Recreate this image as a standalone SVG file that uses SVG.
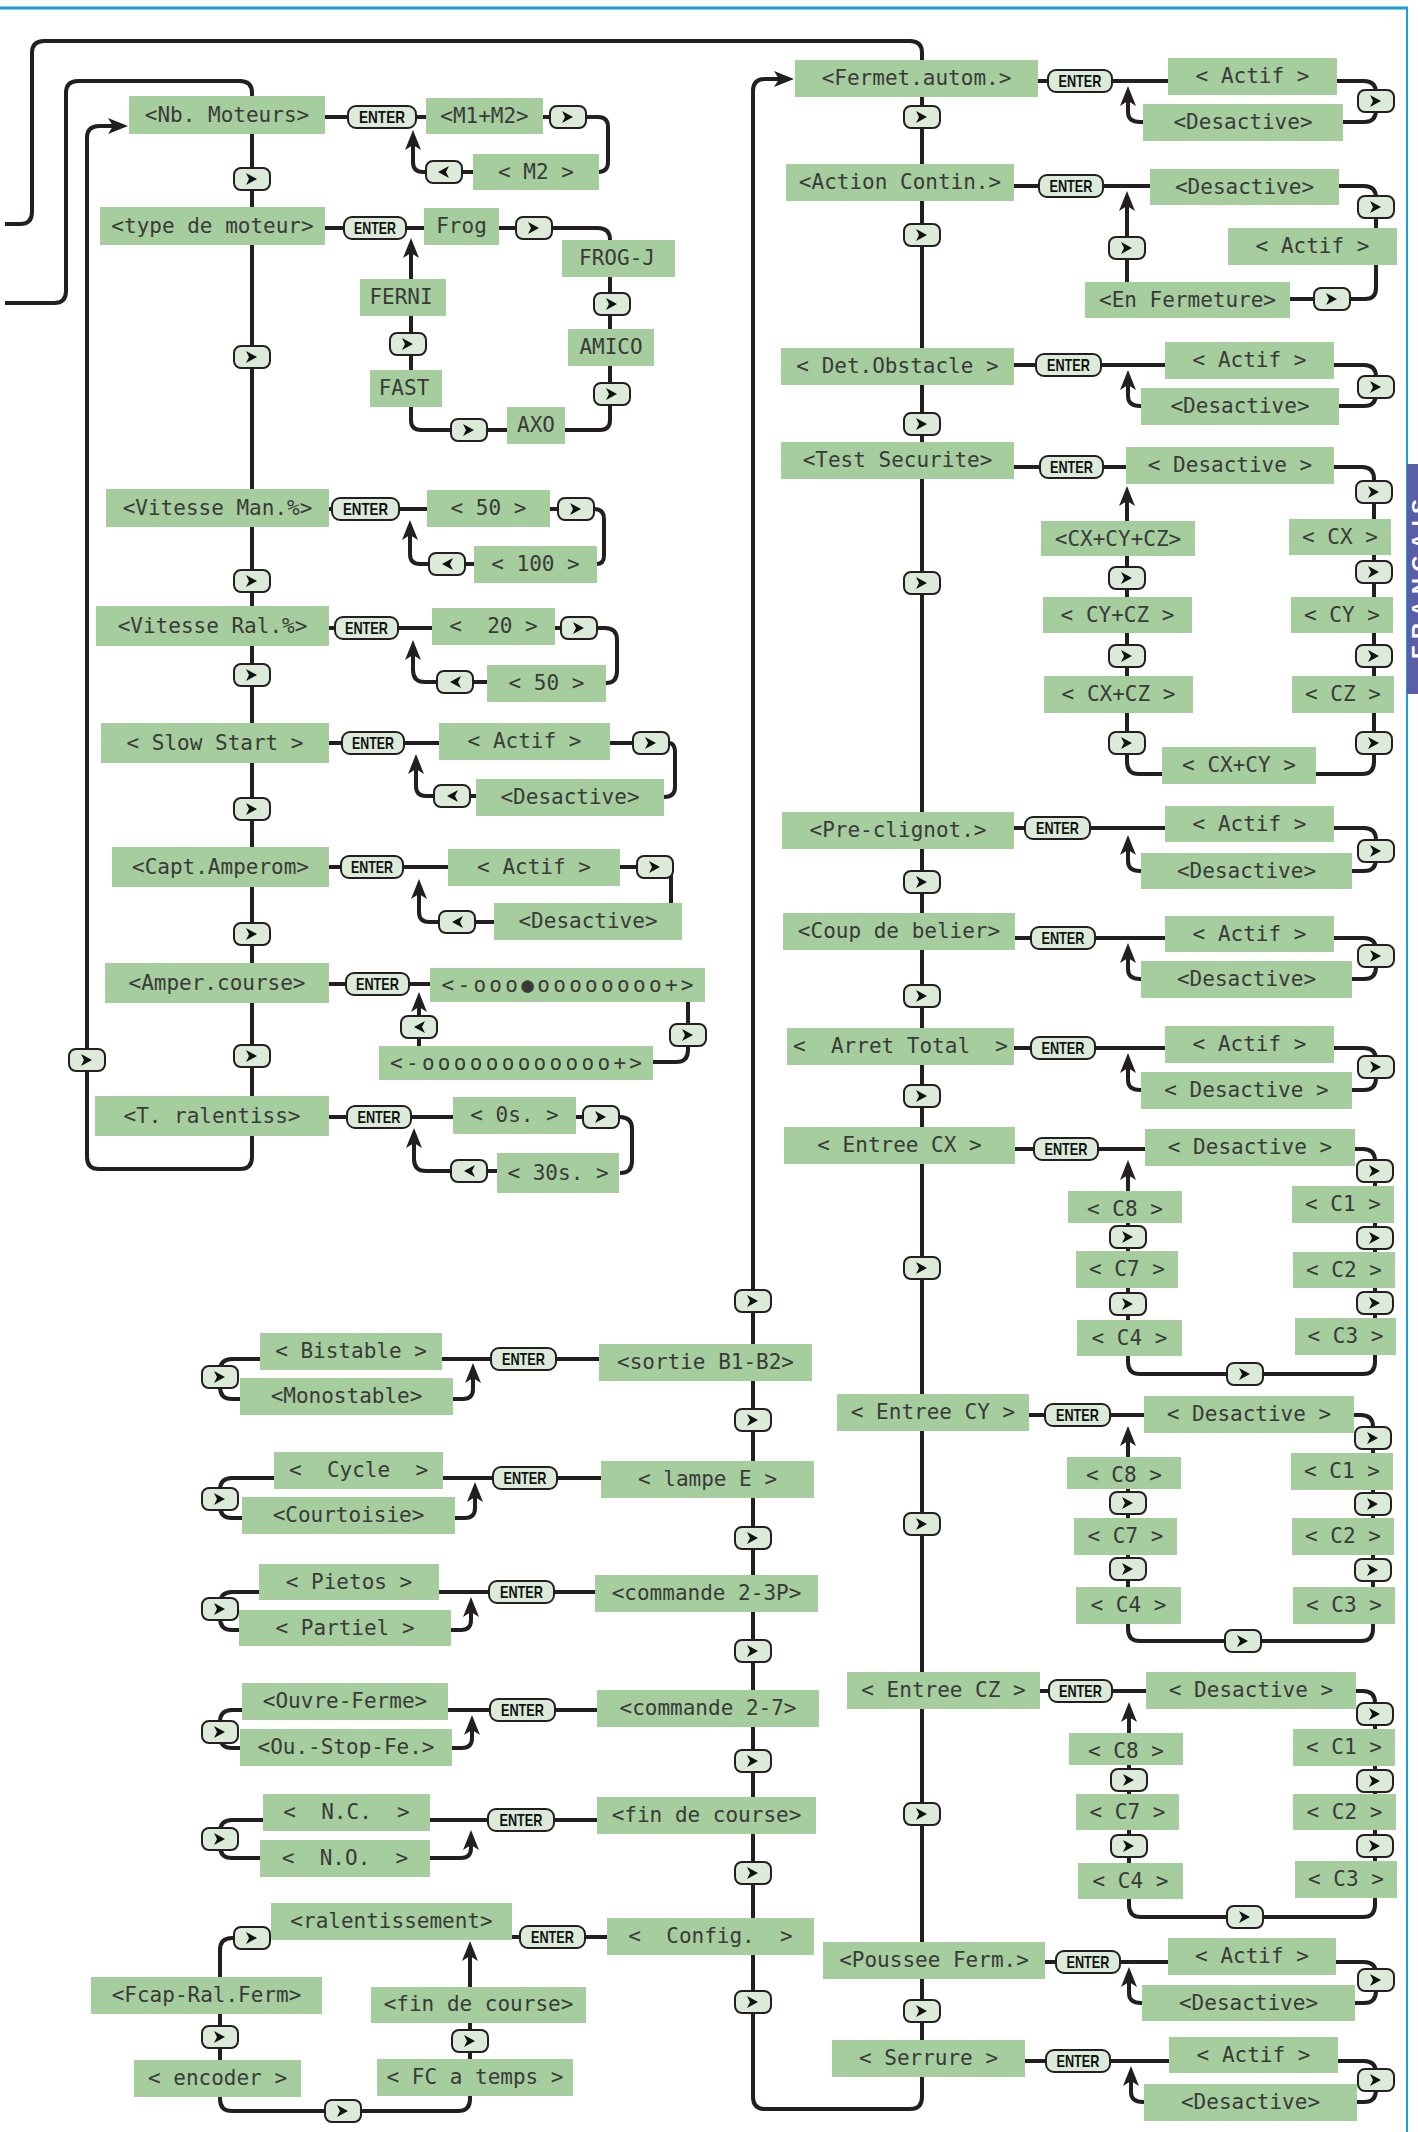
<svg xmlns="http://www.w3.org/2000/svg" xmlns:xlink="http://www.w3.org/1999/xlink" width="1418" height="2132" viewBox="0 0 1418 2132">
<style>
.ln{fill:none;stroke:#231f20;stroke-width:4}
.ar{marker-end:url(#ah)}
.bx{fill:#a5cd9d}
.t{font-family:"DejaVu Sans Mono","Liberation Mono",monospace;font-size:21px;fill:#3a3a3a;text-anchor:middle;white-space:pre}
.k{fill:#dcebd9;stroke:#231f20;stroke-width:2}
.en{font-family:"Liberation Sans",Arial,sans-serif;font-weight:bold;font-size:17px;fill:#111;text-anchor:middle}
.g{fill:#111}
</style>
<defs>
<marker id="ah" viewBox="0 0 20 16" refX="10" refY="8" markerWidth="20" markerHeight="16" markerUnits="userSpaceOnUse" orient="auto"><path d="M0,0 L20,8 L0,16 L5,8 Z" fill="#231f20"/></marker>
<path id="gr" class="g" d="M-5,-6 L6,0 L-5,6 L-2,0 Z"/>
<path id="gl" class="g" d="M5,-6 L-6,0 L5,6 L2,0 Z"/>
</defs>
<rect width="1418" height="2132" fill="#fff"/>
<g id="frame">
<line x1="0" y1="8" x2="1408" y2="8" stroke="#17a0dc" stroke-width="3"/>
<line x1="1407" y1="8" x2="1407" y2="2132" stroke="#17a0dc" stroke-width="2"/>
<rect x="1407" y="464" width="11" height="230" fill="#5b5ea6"/>
<text transform="translate(1427,579) rotate(-90)" font-family="Liberation Sans,Arial,sans-serif" font-weight="bold" font-size="22" fill="#fff" text-anchor="middle" textLength="160" lengthAdjust="spacing">FRANÇAIS</text>
</g>
<g id="connectors">
<path class="ln" d="M5,224 H20 Q32,224 32,212 V53 Q32,41 44,41 H910 Q922,41 922,53 V60"/>
<path class="ln ar" d="M922,97 V2097 Q922,2109 910,2109 H765 Q753,2109 753,2097 V91 Q753,79 765,79 H784"/>
<path class="ln" d="M5,303 H54 Q66,303 66,291 V93 Q66,81 78,81 H240 Q252,81 252,93 V96"/>
<path class="ln ar" d="M252,134 V1157 Q252,1169 240,1169 H99 Q87,1169 87,1157 V138 Q87,126 99,126 H118"/>
<path class="ln" d="M325,117 H426 M543,117 H550 M586,117 H598 Q608,117 608,127 V162 Q608,172 598,172 M473,172 H462"/>
<path class="ln ar" d="M426,172 H423 Q413,172 413,162 V140"/>
<path class="ln" d="M325,228 H424 M499,228 H516 M552,228 H598 Q610,228 610,240 M610,277 V329 M610,366 V420 Q610,430 600,430 H565 M507,430 H487 M451,430 H421 Q411,430 411,420 V407 M411,370 V316"/>
<path class="ln ar" d="M411,279 V248"/>
<path class="ln" d="M329,509 H427 M550,509 H558 M594,509 Q604,509 604,519 V556 Q604,564 596,564 M474,564 H465"/>
<path class="ln ar" d="M429,564 H420 Q410,564 410,554 V530"/>
<path class="ln" d="M329,628 H432 M555,628 H561 M597,628 H605 Q617,628 617,640 V671 Q617,683 606,683 M487,682 H473"/>
<path class="ln ar" d="M437,682 H425 Q413,682 413,670 V650"/>
<path class="ln" d="M329,743 H439 M610,743 H633 M669,743 Q675,743 675,753 V787 Q675,797 664,797 M476,796 H470"/>
<path class="ln ar" d="M434,796 H426 Q416,796 416,786 V764"/>
<path class="ln" d="M329,867 H448 M620,867 H637 M655,867 H663 Q671,867 671,875 V903 M494,922 H475"/>
<path class="ln ar" d="M439,922 H429 Q419,922 419,912 V889"/>
<path class="ln" d="M329,984 H430 M688,1002 V1050 Q688,1062 676,1062 H653"/>
<path class="ln ar" d="M419,1046 V1002"/>
<path class="ln" d="M329,1117 H453 M576,1117 H583 M619,1117 H620 Q632,1117 632,1129 V1161 Q632,1173 620,1173 M497,1171 H487"/>
<path class="ln ar" d="M451,1171 H426 Q414,1171 414,1159 V1138"/>
<path class="ln" d="M1038,81 H1168 M1337,81 H1364 Q1376,81 1376,93 V110 Q1376,122 1364,122 H1343"/>
<path class="ln ar" d="M1143,122 H1140 Q1128,122 1128,112 V96"/>
<path class="ln" d="M1014,186 H1150 M1339,186 H1364 Q1376,186 1376,198 V228 M1376,265 V288 Q1376,299 1365,299 H1350 M1314,299 H1290"/>
<path class="ln ar" d="M1127,282 V201"/>
<path class="ln" d="M1014,365 H1165 M1334,365 H1364 Q1376,365 1376,377 V394 Q1376,406 1364,406 H1339"/>
<path class="ln ar" d="M1141,406 H1140 Q1128,406 1128,396 V380"/>
<path class="ln" d="M1014,467 H1126 M1334,467 H1362 Q1374,467 1374,479 V762 Q1374,774 1362,774 H1316"/>
<path class="ln ar" d="M1162,774 H1139 Q1127,774 1127,762 V496"/>
<path class="ln" d="M1014,828 H1165 M1334,828 H1364 Q1376,828 1376,840 V859 Q1376,871 1364,871 H1352"/>
<path class="ln ar" d="M1141,871 H1140 Q1128,871 1128,861 V845"/>
<path class="ln" d="M1015,938 H1165 M1334,938 H1364 Q1376,938 1376,950 V967 Q1376,979 1364,979 H1352"/>
<path class="ln ar" d="M1141,979 H1140 Q1128,979 1128,969 V953"/>
<path class="ln" d="M1014,1048 H1165 M1334,1048 H1364 Q1376,1048 1376,1060 V1078 Q1376,1090 1364,1090 H1352"/>
<path class="ln ar" d="M1141,1090 H1140 Q1128,1090 1128,1080 V1063"/>
<path class="ln" d="M1015,1149 H1145"/>
<path class="ln ar" d="M1355,1149 H1363 Q1375,1149 1375,1161 V1362 Q1375,1374 1363,1374 H1140 Q1128,1374 1128,1362 V1170"/>
<path class="ln" d="M1029,1415 H1144"/>
<path class="ln ar" d="M1354,1415 H1361 Q1373,1415 1373,1427 V1629 Q1373,1641 1361,1641 H1140 Q1128,1641 1128,1629 V1436"/>
<path class="ln" d="M1040,1691 H1146"/>
<path class="ln ar" d="M1356,1691 H1363 Q1375,1691 1375,1703 V1905 Q1375,1917 1363,1917 H1141 Q1129,1917 1129,1905 V1712"/>
<path class="ln" d="M1045,1962 H1168 M1336,1962 H1364 Q1376,1962 1376,1974 V1991 Q1376,2003 1364,2003 H1355"/>
<path class="ln ar" d="M1142,2003 H1141 Q1129,2003 1129,1993 V1977"/>
<path class="ln" d="M1025,2061 H1169 M1337,2061 H1364 Q1376,2061 1376,2073 V2090 Q1376,2102 1364,2102 H1356"/>
<path class="ln ar" d="M1144,2102 H1143 Q1131,2102 1131,2092 V2076"/>
<path class="ln" d="M599,1359 H442 M260,1359 H232 Q220,1359 220,1371 V1387 Q220,1399 232,1399 H240"/>
<path class="ln ar" d="M453,1399 H463 Q473,1399 473,1389 V1373"/>
<path class="ln" d="M601,1478 H443 M274,1478 H232 Q220,1478 220,1490 V1506 Q220,1518 232,1518 H242"/>
<path class="ln ar" d="M455,1518 H465 Q475,1518 475,1508 V1492"/>
<path class="ln" d="M595,1592 H439 M259,1592 H232 Q220,1592 220,1604 V1618 Q220,1630 232,1630 H239"/>
<path class="ln ar" d="M451,1630 H461 Q471,1630 471,1620 V1607"/>
<path class="ln" d="M597,1710 H448 M242,1710 H232 Q220,1710 220,1722 V1736 Q220,1748 232,1748 H240"/>
<path class="ln ar" d="M452,1748 H462 Q472,1748 472,1738 V1725"/>
<path class="ln" d="M597,1820 H430 M263,1820 H232 Q220,1820 220,1832 V1846 Q220,1858 232,1858 H260"/>
<path class="ln ar" d="M430,1858 H461 Q471,1858 471,1848 V1840"/>
<path class="ln" d="M607,1937 H512"/>
<path class="ln ar" d="M234,1938 H232 Q220,1938 220,1950 V2099 Q220,2111 232,2111 H458 Q470,2111 470,2099 V1951"/>
</g>
<g id="enter-keys">
<g id="eA1"><rect class="k" x="348" y="106" width="68" height="22" rx="8"/><text class="en" x="382" y="123" textLength="46" lengthAdjust="spacingAndGlyphs">ENTER</text></g>
<g id="eA2"><rect class="k" x="344" y="217" width="62" height="22" rx="8"/><text class="en" x="375" y="234" textLength="42" lengthAdjust="spacingAndGlyphs">ENTER</text></g>
<g id="eA3"><rect class="k" x="332" y="498" width="67" height="22" rx="8"/><text class="en" x="365.5" y="515" textLength="45" lengthAdjust="spacingAndGlyphs">ENTER</text></g>
<g id="eA4"><rect class="k" x="335" y="617" width="63" height="22" rx="8"/><text class="en" x="366.5" y="634" textLength="43" lengthAdjust="spacingAndGlyphs">ENTER</text></g>
<g id="eA5"><rect class="k" x="342" y="732" width="62" height="22" rx="8"/><text class="en" x="373" y="749" textLength="42" lengthAdjust="spacingAndGlyphs">ENTER</text></g>
<g id="eA6"><rect class="k" x="341" y="856" width="62" height="22" rx="8"/><text class="en" x="372" y="873" textLength="42" lengthAdjust="spacingAndGlyphs">ENTER</text></g>
<g id="eA7"><rect class="k" x="346" y="973" width="63" height="22" rx="8"/><text class="en" x="377.5" y="990" textLength="43" lengthAdjust="spacingAndGlyphs">ENTER</text></g>
<g id="eA8"><rect class="k" x="347" y="1106" width="64" height="22" rx="8"/><text class="en" x="379" y="1123" textLength="43" lengthAdjust="spacingAndGlyphs">ENTER</text></g>
<g id="eB1"><rect class="k" x="1048" y="70" width="64" height="22" rx="8"/><text class="en" x="1080" y="87" textLength="43" lengthAdjust="spacingAndGlyphs">ENTER</text></g>
<g id="eB2"><rect class="k" x="1039" y="175" width="64" height="22" rx="8"/><text class="en" x="1071" y="192" textLength="43" lengthAdjust="spacingAndGlyphs">ENTER</text></g>
<g id="eB3"><rect class="k" x="1036" y="354" width="65" height="22" rx="8"/><text class="en" x="1068.5" y="371" textLength="43" lengthAdjust="spacingAndGlyphs">ENTER</text></g>
<g id="eB4"><rect class="k" x="1040" y="456" width="63" height="22" rx="8"/><text class="en" x="1071.5" y="473" textLength="43" lengthAdjust="spacingAndGlyphs">ENTER</text></g>
<g id="eB5"><rect class="k" x="1025" y="817" width="65" height="22" rx="8"/><text class="en" x="1057.5" y="834" textLength="43" lengthAdjust="spacingAndGlyphs">ENTER</text></g>
<g id="eB6"><rect class="k" x="1031" y="927" width="64" height="22" rx="8"/><text class="en" x="1063" y="944" textLength="43" lengthAdjust="spacingAndGlyphs">ENTER</text></g>
<g id="eB7"><rect class="k" x="1031" y="1037" width="64" height="22" rx="8"/><text class="en" x="1063" y="1054" textLength="43" lengthAdjust="spacingAndGlyphs">ENTER</text></g>
<g id="eB8"><rect class="k" x="1034" y="1138" width="64" height="22" rx="8"/><text class="en" x="1066" y="1155" textLength="43" lengthAdjust="spacingAndGlyphs">ENTER</text></g>
<g id="eB9"><rect class="k" x="1045" y="1404" width="65" height="22" rx="8"/><text class="en" x="1077.5" y="1421" textLength="43" lengthAdjust="spacingAndGlyphs">ENTER</text></g>
<g id="eB10"><rect class="k" x="1049" y="1680" width="63" height="22" rx="8"/><text class="en" x="1080.5" y="1697" textLength="43" lengthAdjust="spacingAndGlyphs">ENTER</text></g>
<g id="eB11"><rect class="k" x="1056" y="1951" width="64" height="22" rx="8"/><text class="en" x="1088" y="1968" textLength="43" lengthAdjust="spacingAndGlyphs">ENTER</text></g>
<g id="eB12"><rect class="k" x="1046" y="2050" width="64" height="22" rx="8"/><text class="en" x="1078" y="2067" textLength="43" lengthAdjust="spacingAndGlyphs">ENTER</text></g>
<g id="eC1"><rect class="k" x="491" y="1348" width="65" height="22" rx="8"/><text class="en" x="523.5" y="1365" textLength="43" lengthAdjust="spacingAndGlyphs">ENTER</text></g>
<g id="eC2"><rect class="k" x="493" y="1467" width="64" height="22" rx="8"/><text class="en" x="525" y="1484" textLength="43" lengthAdjust="spacingAndGlyphs">ENTER</text></g>
<g id="eC3"><rect class="k" x="489" y="1581" width="65" height="22" rx="8"/><text class="en" x="521.5" y="1598" textLength="43" lengthAdjust="spacingAndGlyphs">ENTER</text></g>
<g id="eC4"><rect class="k" x="490" y="1699" width="65" height="22" rx="8"/><text class="en" x="522.5" y="1716" textLength="43" lengthAdjust="spacingAndGlyphs">ENTER</text></g>
<g id="eC5"><rect class="k" x="488" y="1809" width="66" height="22" rx="8"/><text class="en" x="521" y="1826" textLength="43" lengthAdjust="spacingAndGlyphs">ENTER</text></g>
<g id="eC6"><rect class="k" x="520" y="1926" width="65" height="22" rx="8"/><text class="en" x="552.5" y="1943" textLength="43" lengthAdjust="spacingAndGlyphs">ENTER</text></g>
</g>
<g id="buttons">
<g id="bA1"><rect class="k" x="234" y="168" width="36" height="22" rx="7"/><use href="#gr" x="251" y="179"/></g>
<g id="bA2"><rect class="k" x="234" y="346" width="36" height="22" rx="7"/><use href="#gr" x="251" y="357"/></g>
<g id="bA3"><rect class="k" x="234" y="570" width="36" height="22" rx="7"/><use href="#gr" x="251" y="581"/></g>
<g id="bA4"><rect class="k" x="234" y="664" width="36" height="22" rx="7"/><use href="#gr" x="251" y="675"/></g>
<g id="bA5"><rect class="k" x="234" y="798" width="36" height="22" rx="7"/><use href="#gr" x="251" y="809"/></g>
<g id="bA6"><rect class="k" x="234" y="923" width="36" height="22" rx="7"/><use href="#gr" x="251" y="934"/></g>
<g id="bA7"><rect class="k" x="234" y="1045" width="36" height="22" rx="7"/><use href="#gr" x="251" y="1056"/></g>
<g id="bAL"><rect class="k" x="69" y="1049" width="36" height="22" rx="7"/><use href="#gr" x="86" y="1060"/></g>
<g id="bA1r"><rect class="k" x="550" y="106" width="36" height="22" rx="7"/><use href="#gr" x="567" y="117"/></g>
<g id="bA1l"><rect class="k" x="426" y="161" width="36" height="22" rx="7"/><use href="#gl" x="444" y="172"/></g>
<g id="bA2a"><rect class="k" x="516" y="217" width="36" height="22" rx="7"/><use href="#gr" x="533" y="228"/></g>
<g id="bA2b"><rect class="k" x="594" y="293" width="36" height="22" rx="7"/><use href="#gr" x="611" y="304"/></g>
<g id="bA2c"><rect class="k" x="594" y="383" width="36" height="22" rx="7"/><use href="#gr" x="611" y="394"/></g>
<g id="bA2d"><rect class="k" x="451" y="419" width="36" height="22" rx="7"/><use href="#gr" x="468" y="430"/></g>
<g id="bA2e"><rect class="k" x="390" y="333" width="36" height="22" rx="7"/><use href="#gr" x="407" y="344"/></g>
<g id="bA3r"><rect class="k" x="558" y="498" width="36" height="22" rx="7"/><use href="#gr" x="575" y="509"/></g>
<g id="bA3l"><rect class="k" x="429" y="553" width="36" height="22" rx="7"/><use href="#gl" x="448" y="564"/></g>
<g id="bA4r"><rect class="k" x="561" y="617" width="36" height="22" rx="7"/><use href="#gr" x="578" y="628"/></g>
<g id="bA4l"><rect class="k" x="437" y="671" width="36" height="22" rx="7"/><use href="#gl" x="456" y="682"/></g>
<g id="bA5r"><rect class="k" x="633" y="732" width="36" height="22" rx="7"/><use href="#gr" x="650" y="743"/></g>
<g id="bA5l"><rect class="k" x="434" y="785" width="36" height="22" rx="7"/><use href="#gl" x="453" y="796"/></g>
<g id="bA6r"><rect class="k" x="637" y="856" width="36" height="22" rx="7"/><use href="#gr" x="654" y="867"/></g>
<g id="bA6l"><rect class="k" x="439" y="911" width="36" height="22" rx="7"/><use href="#gl" x="458" y="922"/></g>
<g id="bA7r"><rect class="k" x="670" y="1024" width="36" height="22" rx="7"/><use href="#gr" x="687" y="1035"/></g>
<g id="bA7l"><rect class="k" x="401" y="1016" width="36" height="22" rx="7"/><use href="#gl" x="420" y="1027"/></g>
<g id="bA8r"><rect class="k" x="583" y="1106" width="36" height="22" rx="7"/><use href="#gr" x="600" y="1117"/></g>
<g id="bA8l"><rect class="k" x="451" y="1160" width="36" height="22" rx="7"/><use href="#gl" x="470" y="1171"/></g>
<g id="bB1"><rect class="k" x="904" y="106" width="36" height="22" rx="7"/><use href="#gr" x="921" y="117"/></g>
<g id="bB2"><rect class="k" x="904" y="224" width="36" height="22" rx="7"/><use href="#gr" x="921" y="235"/></g>
<g id="bB3"><rect class="k" x="904" y="413" width="36" height="22" rx="7"/><use href="#gr" x="921" y="424"/></g>
<g id="bB4"><rect class="k" x="904" y="572" width="36" height="22" rx="7"/><use href="#gr" x="921" y="583"/></g>
<g id="bB5"><rect class="k" x="904" y="871" width="36" height="22" rx="7"/><use href="#gr" x="921" y="882"/></g>
<g id="bB6"><rect class="k" x="904" y="985" width="36" height="22" rx="7"/><use href="#gr" x="921" y="996"/></g>
<g id="bB7"><rect class="k" x="904" y="1085" width="36" height="22" rx="7"/><use href="#gr" x="921" y="1096"/></g>
<g id="bB8"><rect class="k" x="904" y="1257" width="36" height="22" rx="7"/><use href="#gr" x="921" y="1268"/></g>
<g id="bB9"><rect class="k" x="904" y="1513" width="36" height="22" rx="7"/><use href="#gr" x="921" y="1524"/></g>
<g id="bB10"><rect class="k" x="904" y="1803" width="36" height="22" rx="7"/><use href="#gr" x="921" y="1814"/></g>
<g id="bB11"><rect class="k" x="904" y="2000" width="36" height="22" rx="7"/><use href="#gr" x="921" y="2011"/></g>
<g id="bL1"><rect class="k" x="735" y="1290" width="36" height="22" rx="7"/><use href="#gr" x="752" y="1301"/></g>
<g id="bL2"><rect class="k" x="735" y="1409" width="36" height="22" rx="7"/><use href="#gr" x="752" y="1420"/></g>
<g id="bL3"><rect class="k" x="735" y="1527" width="36" height="22" rx="7"/><use href="#gr" x="752" y="1538"/></g>
<g id="bL4"><rect class="k" x="735" y="1640" width="36" height="22" rx="7"/><use href="#gr" x="752" y="1651"/></g>
<g id="bL5"><rect class="k" x="735" y="1750" width="36" height="22" rx="7"/><use href="#gr" x="752" y="1761"/></g>
<g id="bL6"><rect class="k" x="735" y="1862" width="36" height="22" rx="7"/><use href="#gr" x="752" y="1873"/></g>
<g id="bL7"><rect class="k" x="735" y="1991" width="36" height="22" rx="7"/><use href="#gr" x="752" y="2002"/></g>
<g id="bB1r"><rect class="k" x="1358" y="90" width="36" height="22" rx="7"/><use href="#gr" x="1375" y="101"/></g>
<g id="bB2r"><rect class="k" x="1358" y="196" width="36" height="22" rx="7"/><use href="#gr" x="1375" y="207"/></g>
<g id="bB2s"><rect class="k" x="1314" y="288" width="36" height="22" rx="7"/><use href="#gr" x="1331" y="299"/></g>
<g id="bB2l"><rect class="k" x="1109" y="237" width="36" height="22" rx="7"/><use href="#gr" x="1126" y="248"/></g>
<g id="bB3r"><rect class="k" x="1358" y="376" width="36" height="22" rx="7"/><use href="#gr" x="1375" y="387"/></g>
<g id="bB4r1"><rect class="k" x="1356" y="481" width="36" height="22" rx="7"/><use href="#gr" x="1373" y="492"/></g>
<g id="bB4r2"><rect class="k" x="1356" y="561" width="36" height="22" rx="7"/><use href="#gr" x="1373" y="572"/></g>
<g id="bB4r3"><rect class="k" x="1356" y="645" width="36" height="22" rx="7"/><use href="#gr" x="1373" y="656"/></g>
<g id="bB4r4"><rect class="k" x="1356" y="732" width="36" height="22" rx="7"/><use href="#gr" x="1373" y="743"/></g>
<g id="bB4l1"><rect class="k" x="1109" y="567" width="36" height="22" rx="7"/><use href="#gr" x="1126" y="578"/></g>
<g id="bB4l2"><rect class="k" x="1109" y="645" width="36" height="22" rx="7"/><use href="#gr" x="1126" y="656"/></g>
<g id="bB4l3"><rect class="k" x="1109" y="732" width="36" height="22" rx="7"/><use href="#gr" x="1126" y="743"/></g>
<g id="bB5r"><rect class="k" x="1358" y="840" width="36" height="22" rx="7"/><use href="#gr" x="1375" y="851"/></g>
<g id="bB6r"><rect class="k" x="1358" y="945" width="36" height="22" rx="7"/><use href="#gr" x="1375" y="956"/></g>
<g id="bB7r"><rect class="k" x="1358" y="1056" width="36" height="22" rx="7"/><use href="#gr" x="1375" y="1067"/></g>
<g id="bB8r1"><rect class="k" x="1357" y="1160" width="36" height="22" rx="7"/><use href="#gr" x="1374" y="1171"/></g>
<g id="bB8r2"><rect class="k" x="1357" y="1227" width="36" height="22" rx="7"/><use href="#gr" x="1374" y="1238"/></g>
<g id="bB8r3"><rect class="k" x="1357" y="1292" width="36" height="22" rx="7"/><use href="#gr" x="1374" y="1303"/></g>
<g id="bB8b"><rect class="k" x="1227" y="1363" width="36" height="22" rx="7"/><use href="#gr" x="1244" y="1374"/></g>
<g id="bB8l1"><rect class="k" x="1110" y="1293" width="36" height="22" rx="7"/><use href="#gr" x="1127" y="1304"/></g>
<g id="bB8l2"><rect class="k" x="1110" y="1226" width="36" height="22" rx="7"/><use href="#gr" x="1127" y="1237"/></g>
<g id="bB9r1"><rect class="k" x="1355" y="1427" width="36" height="22" rx="7"/><use href="#gr" x="1372" y="1438"/></g>
<g id="bB9r2"><rect class="k" x="1355" y="1493" width="36" height="22" rx="7"/><use href="#gr" x="1372" y="1504"/></g>
<g id="bB9r3"><rect class="k" x="1355" y="1559" width="36" height="22" rx="7"/><use href="#gr" x="1372" y="1570"/></g>
<g id="bB9b"><rect class="k" x="1225" y="1630" width="36" height="22" rx="7"/><use href="#gr" x="1242" y="1641"/></g>
<g id="bB9l1"><rect class="k" x="1110" y="1558" width="36" height="22" rx="7"/><use href="#gr" x="1127" y="1569"/></g>
<g id="bB9l2"><rect class="k" x="1110" y="1492" width="36" height="22" rx="7"/><use href="#gr" x="1127" y="1503"/></g>
<g id="bB10r1"><rect class="k" x="1357" y="1703" width="36" height="22" rx="7"/><use href="#gr" x="1374" y="1714"/></g>
<g id="bB10r2"><rect class="k" x="1357" y="1770" width="36" height="22" rx="7"/><use href="#gr" x="1374" y="1781"/></g>
<g id="bB10r3"><rect class="k" x="1357" y="1835" width="36" height="22" rx="7"/><use href="#gr" x="1374" y="1846"/></g>
<g id="bB10b"><rect class="k" x="1227" y="1906" width="36" height="22" rx="7"/><use href="#gr" x="1244" y="1917"/></g>
<g id="bB10l1"><rect class="k" x="1111" y="1835" width="36" height="22" rx="7"/><use href="#gr" x="1128" y="1846"/></g>
<g id="bB10l2"><rect class="k" x="1111" y="1769" width="36" height="22" rx="7"/><use href="#gr" x="1128" y="1780"/></g>
<g id="bB11r"><rect class="k" x="1358" y="1969" width="36" height="22" rx="7"/><use href="#gr" x="1375" y="1980"/></g>
<g id="bB12r"><rect class="k" x="1358" y="2069" width="36" height="22" rx="7"/><use href="#gr" x="1375" y="2080"/></g>
<g id="bC1"><rect class="k" x="202" y="1366" width="36" height="22" rx="7"/><use href="#gr" x="219" y="1377"/></g>
<g id="bC2"><rect class="k" x="202" y="1488" width="36" height="22" rx="7"/><use href="#gr" x="219" y="1499"/></g>
<g id="bC3"><rect class="k" x="202" y="1598" width="36" height="22" rx="7"/><use href="#gr" x="219" y="1609"/></g>
<g id="bC4"><rect class="k" x="202" y="1721" width="36" height="22" rx="7"/><use href="#gr" x="219" y="1732"/></g>
<g id="bC5"><rect class="k" x="202" y="1828" width="36" height="22" rx="7"/><use href="#gr" x="219" y="1839"/></g>
<g id="bC6a"><rect class="k" x="234" y="1927" width="36" height="22" rx="7"/><use href="#gr" x="251" y="1938"/></g>
<g id="bC6b"><rect class="k" x="202" y="2026" width="36" height="22" rx="7"/><use href="#gr" x="219" y="2037"/></g>
<g id="bC6c"><rect class="k" x="325" y="2100" width="36" height="22" rx="7"/><use href="#gr" x="342" y="2111"/></g>
<g id="bC6d"><rect class="k" x="452" y="2030" width="36" height="22" rx="7"/><use href="#gr" x="469" y="2041"/></g>
</g>
<g id="nodes">
<g id="A1"><rect class="bx" x="129" y="96" width="196" height="38"/><text class="t" x="227" y="122">&lt;Nb. Moteurs&gt;</text></g>
<g id="A2"><rect class="bx" x="100" y="207" width="225" height="38"/><text class="t" x="212.5" y="233">&lt;type de moteur&gt;</text></g>
<g id="A3"><rect class="bx" x="106" y="489" width="223" height="38"/><text class="t" x="217.5" y="515">&lt;Vitesse Man.%&gt;</text></g>
<g id="A4"><rect class="bx" x="96" y="606" width="233" height="40"/><text class="t" x="212.5" y="633">&lt;Vitesse Ral.%&gt;</text></g>
<g id="A5"><rect class="bx" x="101" y="723" width="228" height="40"/><text class="t" x="215" y="750">&lt; Slow Start &gt;</text></g>
<g id="A6"><rect class="bx" x="112" y="847" width="217" height="40"/><text class="t" x="220.5" y="874">&lt;Capt.Amperom&gt;</text></g>
<g id="A7"><rect class="bx" x="105" y="963" width="224" height="40"/><text class="t" x="217" y="990">&lt;Amper.course&gt;</text></g>
<g id="A8"><rect class="bx" x="95" y="1096" width="234" height="40"/><text class="t" x="212" y="1123">&lt;T. ralentiss&gt;</text></g>
<g id="oM1M2"><rect class="bx" x="426" y="98" width="117" height="36"/><text class="t" x="484.5" y="123">&lt;M1+M2&gt;</text></g>
<g id="oM2"><rect class="bx" x="473" y="154" width="126" height="36"/><text class="t" x="536" y="179">&lt; M2 &gt;</text></g>
<g id="oFrog"><rect class="bx" x="424" y="208" width="75" height="37"/><text class="t" x="461.5" y="233">Frog</text></g>
<g id="oFROGJ"><rect class="bx" x="562" y="240" width="113" height="37"/><text class="t" x="617" y="265">FROG-J</text></g>
<g id="oAMICO"><rect class="bx" x="568" y="329" width="86" height="37"/><text class="t" x="611" y="354">AMICO</text></g>
<g id="oAXO"><rect class="bx" x="507" y="407" width="58" height="37"/><text class="t" x="536" y="432">AXO</text></g>
<g id="oFAST"><rect class="bx" x="370" y="370" width="72" height="37"/><text class="t" x="404" y="395">FAST</text></g>
<g id="oFERNI"><rect class="bx" x="360" y="279" width="86" height="37"/><text class="t" x="401" y="304">FERNI</text></g>
<g id="o50a"><rect class="bx" x="427" y="490" width="123" height="37"/><text class="t" x="488.5" y="515">&lt; 50 &gt;</text></g>
<g id="o100"><rect class="bx" x="474" y="546" width="123" height="37"/><text class="t" x="535.5" y="571">&lt; 100 &gt;</text></g>
<g id="o20"><rect class="bx" x="432" y="608" width="123" height="37"/><text class="t" x="493.5" y="633">&lt;  20 &gt;</text></g>
<g id="o50b"><rect class="bx" x="487" y="665" width="119" height="37"/><text class="t" x="546.5" y="690">&lt; 50 &gt;</text></g>
<g id="oA5a"><rect class="bx" x="439" y="723" width="171" height="37"/><text class="t" x="524.5" y="748">&lt; Actif &gt;</text></g>
<g id="oA5d"><rect class="bx" x="476" y="779" width="188" height="37"/><text class="t" x="570" y="804">&lt;Desactive&gt;</text></g>
<g id="oA6a"><rect class="bx" x="448" y="849" width="172" height="37"/><text class="t" x="534" y="874">&lt; Actif &gt;</text></g>
<g id="oA6d"><rect class="bx" x="494" y="903" width="188" height="37"/><text class="t" x="588" y="928">&lt;Desactive&gt;</text></g>
<g id="oA7a"><rect class="bx" x="430" y="968" width="275" height="34"/><text class="t" x="567.5" y="992" textLength="252" lengthAdjust="spacing">&lt;-ooo●oooooooo+&gt;</text></g>
<g id="oA7b"><rect class="bx" x="379" y="1046" width="274" height="34"/><text class="t" x="516" y="1070" textLength="252" lengthAdjust="spacing">&lt;-oooooooooooo+&gt;</text></g>
<g id="oA8a"><rect class="bx" x="453" y="1097" width="123" height="37"/><text class="t" x="514.5" y="1122">&lt; 0s. &gt;</text></g>
<g id="oA8b"><rect class="bx" x="497" y="1153" width="122" height="40"/><text class="t" x="558" y="1180">&lt; 30s. &gt;</text></g>
<g id="B1"><rect class="bx" x="795" y="60" width="243" height="37"/><text class="t" x="916.5" y="85">&lt;Fermet.autom.&gt;</text></g>
<g id="B2"><rect class="bx" x="786" y="164" width="228" height="37"/><text class="t" x="900" y="189">&lt;Action Contin.&gt;</text></g>
<g id="B3"><rect class="bx" x="781" y="348" width="233" height="37"/><text class="t" x="897.5" y="373">&lt; Det.Obstacle &gt;</text></g>
<g id="B4"><rect class="bx" x="781" y="442" width="233" height="37"/><text class="t" x="897.5" y="467">&lt;Test Securite&gt;</text></g>
<g id="B5"><rect class="bx" x="782" y="812" width="232" height="37"/><text class="t" x="898" y="837">&lt;Pre-clignot.&gt;</text></g>
<g id="B6"><rect class="bx" x="783" y="913" width="232" height="37"/><text class="t" x="899" y="938">&lt;Coup de belier&gt;</text></g>
<g id="B7"><rect class="bx" x="787" y="1028" width="227" height="37"/><text class="t" x="900.5" y="1053">&lt;  Arret Total  &gt;</text></g>
<g id="B8"><rect class="bx" x="784" y="1127" width="231" height="37"/><text class="t" x="899.5" y="1152">&lt; Entree CX &gt;</text></g>
<g id="B9"><rect class="bx" x="837" y="1394" width="192" height="37"/><text class="t" x="933" y="1419">&lt; Entree CY &gt;</text></g>
<g id="B10"><rect class="bx" x="847" y="1672" width="193" height="37"/><text class="t" x="943.5" y="1697">&lt; Entree CZ &gt;</text></g>
<g id="B11"><rect class="bx" x="823" y="1942" width="222" height="37"/><text class="t" x="934" y="1967">&lt;Poussee Ferm.&gt;</text></g>
<g id="B12"><rect class="bx" x="832" y="2040" width="193" height="37"/><text class="t" x="928.5" y="2065">&lt; Serrure &gt;</text></g>
<g id="oB1a"><rect class="bx" x="1168" y="58" width="169" height="37"/><text class="t" x="1252.5" y="83">&lt; Actif &gt;</text></g>
<g id="oB1d"><rect class="bx" x="1143" y="104" width="200" height="37"/><text class="t" x="1243" y="129">&lt;Desactive&gt;</text></g>
<g id="oB2d"><rect class="bx" x="1150" y="169" width="189" height="36"/><text class="t" x="1244.5" y="194">&lt;Desactive&gt;</text></g>
<g id="oB2a"><rect class="bx" x="1228" y="228" width="169" height="37"/><text class="t" x="1312.5" y="253">&lt; Actif &gt;</text></g>
<g id="oB2f"><rect class="bx" x="1085" y="282" width="205" height="36"/><text class="t" x="1187.5" y="307">&lt;En Fermeture&gt;</text></g>
<g id="oB3a"><rect class="bx" x="1165" y="342" width="169" height="37"/><text class="t" x="1249.5" y="367">&lt; Actif &gt;</text></g>
<g id="oB3d"><rect class="bx" x="1141" y="388" width="198" height="37"/><text class="t" x="1240" y="413">&lt;Desactive&gt;</text></g>
<g id="oB4d"><rect class="bx" x="1126" y="447" width="208" height="37"/><text class="t" x="1230" y="472">&lt; Desactive &gt;</text></g>
<g id="oCX"><rect class="bx" x="1289" y="519" width="102" height="36"/><text class="t" x="1340" y="544">&lt; CX &gt;</text></g>
<g id="oCY"><rect class="bx" x="1291" y="597" width="102" height="36"/><text class="t" x="1342" y="622">&lt; CY &gt;</text></g>
<g id="oCZ"><rect class="bx" x="1292" y="676" width="102" height="37"/><text class="t" x="1343" y="701">&lt; CZ &gt;</text></g>
<g id="oCXCY"><rect class="bx" x="1162" y="747" width="154" height="37"/><text class="t" x="1239" y="772">&lt; CX+CY &gt;</text></g>
<g id="oCXCZ"><rect class="bx" x="1044" y="676" width="149" height="37"/><text class="t" x="1118.5" y="701">&lt; CX+CZ &gt;</text></g>
<g id="oCYCZ"><rect class="bx" x="1043" y="597" width="149" height="36"/><text class="t" x="1117.5" y="622">&lt; CY+CZ &gt;</text></g>
<g id="oCXYZ"><rect class="bx" x="1041" y="521" width="154" height="35"/><text class="t" x="1118" y="546">&lt;CX+CY+CZ&gt;</text></g>
<g id="oB5a"><rect class="bx" x="1165" y="806" width="169" height="36"/><text class="t" x="1249.5" y="831">&lt; Actif &gt;</text></g>
<g id="oB5d"><rect class="bx" x="1141" y="853" width="211" height="36"/><text class="t" x="1246.5" y="878">&lt;Desactive&gt;</text></g>
<g id="oB6a"><rect class="bx" x="1165" y="916" width="169" height="36"/><text class="t" x="1249.5" y="941">&lt; Actif &gt;</text></g>
<g id="oB6d"><rect class="bx" x="1141" y="961" width="211" height="37"/><text class="t" x="1246.5" y="986">&lt;Desactive&gt;</text></g>
<g id="oB7a"><rect class="bx" x="1165" y="1026" width="169" height="37"/><text class="t" x="1249.5" y="1051">&lt; Actif &gt;</text></g>
<g id="oB7d"><rect class="bx" x="1141" y="1072" width="211" height="37"/><text class="t" x="1246.5" y="1097">&lt; Desactive &gt;</text></g>
<g id="oB8d"><rect class="bx" x="1145" y="1129" width="210" height="37"/><text class="t" x="1250" y="1154">&lt; Desactive &gt;</text></g>
<g id="oB8c1"><rect class="bx" x="1292" y="1186" width="102" height="37"/><text class="t" x="1343" y="1211">&lt; C1 &gt;</text></g>
<g id="oB8c2"><rect class="bx" x="1293" y="1252" width="102" height="36"/><text class="t" x="1344" y="1277">&lt; C2 &gt;</text></g>
<g id="oB8c3"><rect class="bx" x="1295" y="1318" width="101" height="37"/><text class="t" x="1345.5" y="1343">&lt; C3 &gt;</text></g>
<g id="oB8c4"><rect class="bx" x="1077" y="1320" width="105" height="36"/><text class="t" x="1129.5" y="1345">&lt; C4 &gt;</text></g>
<g id="oB8c7"><rect class="bx" x="1076" y="1251" width="102" height="37"/><text class="t" x="1127" y="1276">&lt; C7 &gt;</text></g>
<g id="oB8c8"><rect class="bx" x="1068" y="1191" width="114" height="32"/><text class="t" x="1125" y="1216">&lt; C8 &gt;</text></g>
<g id="oB9d"><rect class="bx" x="1144" y="1396" width="210" height="37"/><text class="t" x="1249" y="1421">&lt; Desactive &gt;</text></g>
<g id="oB9c1"><rect class="bx" x="1291" y="1453" width="102" height="37"/><text class="t" x="1342" y="1478">&lt; C1 &gt;</text></g>
<g id="oB9c2"><rect class="bx" x="1292" y="1518" width="102" height="37"/><text class="t" x="1343" y="1543">&lt; C2 &gt;</text></g>
<g id="oB9c3"><rect class="bx" x="1293" y="1587" width="102" height="37"/><text class="t" x="1344" y="1612">&lt; C3 &gt;</text></g>
<g id="oB9c8"><rect class="bx" x="1067" y="1457" width="114" height="32"/><text class="t" x="1124" y="1482">&lt; C8 &gt;</text></g>
<g id="oB9c7"><rect class="bx" x="1074" y="1518" width="103" height="37"/><text class="t" x="1125.5" y="1543">&lt; C7 &gt;</text></g>
<g id="oB9c4"><rect class="bx" x="1076" y="1587" width="105" height="37"/><text class="t" x="1128.5" y="1612">&lt; C4 &gt;</text></g>
<g id="oB10d"><rect class="bx" x="1146" y="1672" width="210" height="37"/><text class="t" x="1251" y="1697">&lt; Desactive &gt;</text></g>
<g id="oB10c1"><rect class="bx" x="1293" y="1729" width="102" height="37"/><text class="t" x="1344" y="1754">&lt; C1 &gt;</text></g>
<g id="oB10c2"><rect class="bx" x="1293" y="1794" width="103" height="36"/><text class="t" x="1344.5" y="1819">&lt; C2 &gt;</text></g>
<g id="oB10c3"><rect class="bx" x="1295" y="1861" width="102" height="37"/><text class="t" x="1346" y="1886">&lt; C3 &gt;</text></g>
<g id="oB10c8"><rect class="bx" x="1069" y="1733" width="114" height="32"/><text class="t" x="1126" y="1758">&lt; C8 &gt;</text></g>
<g id="oB10c7"><rect class="bx" x="1076" y="1794" width="103" height="36"/><text class="t" x="1127.5" y="1819">&lt; C7 &gt;</text></g>
<g id="oB10c4"><rect class="bx" x="1078" y="1863" width="105" height="36"/><text class="t" x="1130.5" y="1888">&lt; C4 &gt;</text></g>
<g id="oB11a"><rect class="bx" x="1168" y="1938" width="168" height="37"/><text class="t" x="1252" y="1963">&lt; Actif &gt;</text></g>
<g id="oB11d"><rect class="bx" x="1142" y="1985" width="213" height="36"/><text class="t" x="1248.5" y="2010">&lt;Desactive&gt;</text></g>
<g id="oB12a"><rect class="bx" x="1169" y="2037" width="169" height="36"/><text class="t" x="1253.5" y="2062">&lt; Actif &gt;</text></g>
<g id="oB12d"><rect class="bx" x="1144" y="2084" width="213" height="37"/><text class="t" x="1250.5" y="2109">&lt;Desactive&gt;</text></g>
<g id="C1"><rect class="bx" x="599" y="1344" width="213" height="37"/><text class="t" x="705.5" y="1369">&lt;sortie B1-B2&gt;</text></g>
<g id="C2"><rect class="bx" x="601" y="1461" width="213" height="37"/><text class="t" x="707.5" y="1486">&lt; lampe E &gt;</text></g>
<g id="C3"><rect class="bx" x="595" y="1575" width="223" height="37"/><text class="t" x="706.5" y="1600">&lt;commande 2-3P&gt;</text></g>
<g id="C4"><rect class="bx" x="597" y="1690" width="222" height="37"/><text class="t" x="708" y="1715">&lt;commande 2-7&gt;</text></g>
<g id="C5"><rect class="bx" x="597" y="1797" width="219" height="37"/><text class="t" x="706.5" y="1822">&lt;fin de course&gt;</text></g>
<g id="C6"><rect class="bx" x="607" y="1918" width="207" height="37"/><text class="t" x="710.5" y="1943">&lt;  Config.  &gt;</text></g>
<g id="oBist"><rect class="bx" x="260" y="1333" width="182" height="37"/><text class="t" x="351" y="1358">&lt; Bistable &gt;</text></g>
<g id="oMono"><rect class="bx" x="240" y="1378" width="213" height="37"/><text class="t" x="346.5" y="1403">&lt;Monostable&gt;</text></g>
<g id="oCycle"><rect class="bx" x="274" y="1452" width="169" height="37"/><text class="t" x="358.5" y="1477">&lt;  Cycle  &gt;</text></g>
<g id="oCourt"><rect class="bx" x="242" y="1497" width="213" height="37"/><text class="t" x="348.5" y="1522">&lt;Courtoisie&gt;</text></g>
<g id="oPietos"><rect class="bx" x="259" y="1564" width="180" height="36"/><text class="t" x="349" y="1589">&lt; Pietos &gt;</text></g>
<g id="oPartiel"><rect class="bx" x="239" y="1610" width="212" height="36"/><text class="t" x="345" y="1635">&lt; Partiel &gt;</text></g>
<g id="oOuvre"><rect class="bx" x="242" y="1683" width="206" height="37"/><text class="t" x="345" y="1708">&lt;Ouvre-Ferme&gt;</text></g>
<g id="oOuStop"><rect class="bx" x="240" y="1729" width="212" height="37"/><text class="t" x="346" y="1754">&lt;Ou.-Stop-Fe.&gt;</text></g>
<g id="oNC"><rect class="bx" x="263" y="1794" width="167" height="37"/><text class="t" x="346.5" y="1819">&lt;  N.C.  &gt;</text></g>
<g id="oNO"><rect class="bx" x="260" y="1840" width="170" height="37"/><text class="t" x="345" y="1865">&lt;  N.O.  &gt;</text></g>
<g id="oRal"><rect class="bx" x="271" y="1903" width="241" height="37"/><text class="t" x="391.5" y="1928">&lt;ralentissement&gt;</text></g>
<g id="oFcap"><rect class="bx" x="91" y="1977" width="231" height="37"/><text class="t" x="206.5" y="2002">&lt;Fcap-Ral.Ferm&gt;</text></g>
<g id="oEnc"><rect class="bx" x="134" y="2060" width="167" height="37"/><text class="t" x="217.5" y="2085">&lt; encoder &gt;</text></g>
<g id="oFdc"><rect class="bx" x="371" y="1987" width="215" height="36"/><text class="t" x="478.5" y="2011">&lt;fin de course&gt;</text></g>
<g id="oFCt"><rect class="bx" x="377" y="2059" width="196" height="37"/><text class="t" x="475" y="2084">&lt; FC a temps &gt;</text></g>
</g>
</svg>
